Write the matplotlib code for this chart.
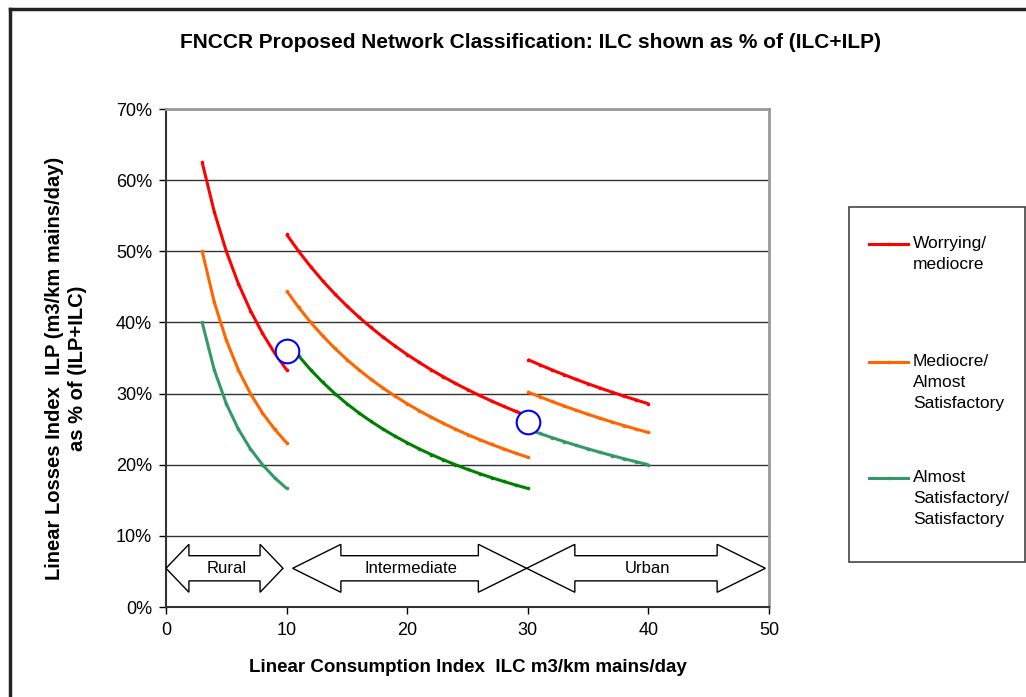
import matplotlib
matplotlib.use("Agg")
import matplotlib.pyplot as plt
from matplotlib.lines import Line2D
from matplotlib.patches import Polygon, Rectangle
from matplotlib.ticker import FuncFormatter

plt.rcParams['font.family'] = ['Liberation Sans', 'DejaVu Sans']

# ---------------- data ----------------
rural_x = [3, 4, 5, 6, 7, 8, 9, 10]
rural_red = [0.625, 0.5556, 0.5, 0.4545, 0.4167, 0.3846, 0.3571, 0.3333]
rural_orange = [0.5, 0.4286, 0.375, 0.3333, 0.3, 0.2727, 0.25, 0.2308]
rural_green = [0.4, 0.3333, 0.2857, 0.25, 0.2222, 0.2, 0.1818, 0.1667]

inter_x = list(range(10, 31))
inter_red = [0.5238, 0.5, 0.4783, 0.4583, 0.44, 0.4231, 0.4074, 0.3929, 0.3793, 0.3667,
             0.3548, 0.3438, 0.3333, 0.3235, 0.3143, 0.3056, 0.2973, 0.2895, 0.2821, 0.2750, 0.2683]
inter_orange = [0.4444, 0.4211, 0.4, 0.3810, 0.3636, 0.3478, 0.3333, 0.32, 0.3077, 0.2963,
                0.2857, 0.2759, 0.2667, 0.2581, 0.25, 0.2424, 0.2353, 0.2286, 0.2222, 0.2162, 0.2105]
inter_green = [0.375, 0.3529, 0.3333, 0.3158, 0.3, 0.2857, 0.2727, 0.2609, 0.25, 0.24,
               0.2308, 0.2222, 0.2143, 0.2069, 0.2, 0.1935, 0.1875, 0.1818, 0.1765, 0.1714, 0.1667]

urban_x = list(range(30, 41))
urban_red = [0.3478, 0.3404, 0.3333, 0.3265, 0.32, 0.3137, 0.3077, 0.3019, 0.2963, 0.2909, 0.2857]
urban_orange = [0.3023, 0.2955, 0.2889, 0.2826, 0.2766, 0.2708, 0.2653, 0.26, 0.2549, 0.25, 0.2453]
urban_green = [0.25, 0.2439, 0.2381, 0.2326, 0.2273, 0.2222, 0.2174, 0.2128, 0.2083, 0.2041, 0.2]

boundary_x = [10, 30]
boundary_y = [0.36, 0.26]

zone_names = ["Rural", "Intermediate", "Urban"]
zone_start = [0.0, 10.5, 29.9]
zone_end = [9.7, 29.9, 49.7]

legend_labels = ["Worrying/\nmediocre", "Mediocre/\nAlmost\nSatisfactory",
                 "Almost\nSatisfactory/\nSatisfactory"]

x_ticks = [0, 10, 20, 30, 40, 50]
y_ticks = [0, 0.1, 0.2, 0.3, 0.4, 0.5, 0.6, 0.7]

RED = "#FF0000"
ORANGE = "#FF6600"
SEA = "#339966"
DKGREEN = "#008000"

# ---------------- figure ----------------
W, H = 1026, 697
fig = plt.figure(figsize=(W / 100, H / 100), dpi=100)
ax = fig.add_axes([166 / W, (H - 607) / H, 603 / W, 498 / H])

lw = 2.2
ms = 1.6
def line(x, y, c):
    ax.plot(x, y, color=c, lw=lw, marker='o', ms=ms, mec=c, mfc=c, zorder=3,
            solid_capstyle='butt')

line(rural_x, rural_red, RED)
line(rural_x, rural_orange, ORANGE)
line(rural_x, rural_green, SEA)
line(inter_x, inter_red, RED)
line(inter_x, inter_orange, ORANGE)
line(inter_x, inter_green, DKGREEN)
line(urban_x, urban_red, RED)
line(urban_x, urban_orange, ORANGE)
line(urban_x, urban_green, SEA)

ax.plot(boundary_x, boundary_y, ls='none', marker='o', ms=17, mfc='white',
        mec='#0000FF', mew=1.5, zorder=5)

# zone arrows
yc, hh, sh = 0.0544, 0.0337, 0.0177
for name, x0, x1 in zip(zone_names, zone_start, zone_end):
    hl = 1.9 if (x1 - x0) < 12 else 4.0
    pts = [(x0, yc), (x0 + hl, yc + hh), (x0 + hl, yc + sh), (x1 - hl, yc + sh),
           (x1 - hl, yc + hh), (x1, yc), (x1 - hl, yc - hh), (x1 - hl, yc - sh),
           (x0 + hl, yc - sh), (x0 + hl, yc - hh)]
    ax.add_patch(Polygon(pts, closed=True, fc='white', ec='black', lw=1.0, zorder=4))
    ax.text((x0 + x1) / 2 + 0.15, yc, name, ha='center', va='center', fontsize=12, zorder=6)

ax.set_xlim(0, 50)
ax.set_ylim(0, 0.7)
ax.set_xticks(x_ticks)
ax.set_yticks(y_ticks)
ax.yaxis.set_major_formatter(FuncFormatter(lambda v, p: f"{v * 100:.0f}%"))
ax.tick_params(axis='both', direction='out', length=5, width=1, labelsize=13, colors='black')
ax.tick_params(axis='y', pad=5)
ax.tick_params(axis='x', pad=6)
ax.grid(axis='y', color='#333333', lw=1.0)
ax.set_axisbelow(True)
for s in ['left', 'bottom']:
    ax.spines[s].set_color('#333333')
    ax.spines[s].set_linewidth(1.5)
for s in ['top', 'right']:
    ax.spines[s].set_color('#999999')
    ax.spines[s].set_linewidth(2.0)

# titles
fig.text(531 / W, (H - 42) / H, "FNCCR Proposed Network Classification: ILC shown as % of (ILC+ILP)",
         ha='center', va='center', fontsize=15, fontweight='bold')
fig.text(468 / W, (H - 668) / H, "Linear Consumption Index  ILC m3/km mains/day",
         ha='center', va='center', fontsize=13.5, fontweight='bold')
fig.text(66 / W, (H - 368) / H, "Linear Losses Index  ILP (m3/km mains/day)\nas % of (ILP+ILC)",
         ha='center', va='center', rotation=90, fontsize=14.5, fontweight='bold',
         multialignment='center', linespacing=1.25)

# legend (manual)
fig.add_artist(Rectangle((849 / W, (H - 562) / H), 176 / W, 355 / H, transform=fig.transFigure,
                         fc='white', ec='#444444', lw=1.2))
leg_colors = [RED, ORANGE, SEA]
leg_y = [244, 362, 478]
for c, lab, yy in zip(leg_colors, legend_labels, leg_y):
    fy = (H - yy) / H
    fig.add_artist(Line2D([869 / W, 908 / W], [fy, fy], transform=fig.transFigure, color=c, lw=2.2))
    fig.add_artist(Line2D([888.5 / W], [fy], transform=fig.transFigure, color=c, marker='o', ms=1.6))
    fig.text(913 / W, (H - yy + 8) / H, lab, ha='left', va='top', fontsize=12.5, linespacing=1.5)

# outer chart border
fig.add_artist(Line2D([10 / W, 10 / W], [(H - 9) / H, 0], transform=fig.transFigure, color='#222222', lw=2.5))
fig.add_artist(Line2D([10 / W, 1], [(H - 9) / H, (H - 9) / H], transform=fig.transFigure, color='#222222', lw=2.5))

fig.savefig("out.png", dpi=100)
